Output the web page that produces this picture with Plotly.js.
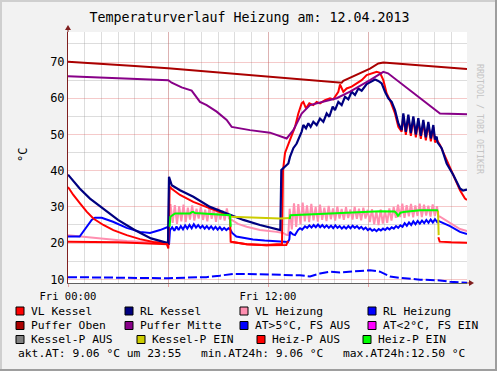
<!DOCTYPE html>
<html><head><meta charset="utf-8">
<script src="https://cdn.plot.ly/plotly-3.0.1.min.js"></script>
<style>html,body{margin:0;padding:0;background:#F2F2F2;}#g{width:497px;height:371px;}</style>
</head><body><div id="g"></div>
<script>
// ---------- data (hours since Fri 00:00, °C) ----------
const tPufferOben = [0,2,4,6,7.9,10,11,13,15,16.42,16.52,16.92,17.72,18.12,18.62,18.92,23.94];
const vPufferOben = [70.1,69.6,68.9,68.3,67.6,66.7,66.4,65.6,64.9,64.3,64.8,65.7,67.3,68.2,69.6,69.9,68.1];

const tPufferMitte = [0,2,4,6.02,6.22,6.82,7.42,7.62,7.72,7.92,8.32,8.92,9.52,9.82,10.92,12.12,13.12,13.52,14.02,14.52,16.12,16.92,18.12,18.92,19.2,20.52,21.52,22.32,23.94];
const vPufferMitte = [66.1,65.7,65.4,65.0,64.3,63.0,62.1,60.9,60.0,59.0,58.1,56.3,54.0,52.1,51.2,50.5,48.9,51.2,55.8,58.1,60.0,61.8,65.0,67.3,66.9,62.3,58.6,55.8,55.6];

const tVLKessel = [0,0.32,0.72,1.12,1.52,2.12,2.72,3.52,4.32,5.12,5.92,6.02,6.1,6.22,6.72,7.52,8.52,9.52,9.72,9.76,10.72,11.92,12.52,12.84,12.9,13.02,13.32,13.62,13.82,14.02,14.12,14.28,14.48,14.72,14.92,15.12,15.42,15.72,15.92,16.22,16.32,16.52,16.72,17.02,17.32,17.62,17.92,18.22,18.52,18.72,18.92,19.12,19.32,19.62,19.82,20.02,20.12,20.27,20.42,20.57,20.72,20.87,21.02,21.17,21.32,21.47,21.62,21.77,21.92,22.02,22.12,22.32,22.72,23.12,23.52,23.82,23.94];
const vVLKessel = [35.5,33.3,31.0,28.7,26.8,25.0,23.6,22.2,21.1,20.3,19.9,18.5,35.6,35.0,33.3,31.4,29.6,27.8,27.7,20.4,19.7,19.4,19.7,19.7,40.0,44.9,48.5,52.1,55.8,58.6,59.0,57.2,58.6,58.1,59.0,58.6,59.5,60.0,59.7,61.8,63.8,61.8,62.7,63.2,64.1,65.0,66.4,66.9,67.3,67.0,65.0,61.3,59.5,55.8,52.1,50.8,55.2,49.9,54.9,49.6,54.4,49.2,53.9,48.8,53.4,48.4,52.9,48.1,52.0,47.8,48.6,47.1,42.9,38.3,34.6,32.3,31.9];

const tRLKessel = [0,0.7,1.32,1.98,3,4,4.98,5.52,5.82,6.0,6.06,6.22,6.72,7.52,8.52,9.52,10.52,11.52,12.62,12.74,12.8,13.02,13.22,13.32,13.52,13.72,13.82,14.02,14.12,14.28,14.42,14.56,14.72,14.92,15.12,15.32,15.52,15.68,15.88,16.02,16.22,16.42,16.62,16.82,17.02,17.22,17.42,17.62,17.92,18.22,18.42,18.62,18.82,19.02,19.22,19.42,19.62,19.82,20.02,20.12,20.27,20.42,20.57,20.72,20.87,21.02,21.17,21.32,21.47,21.62,21.77,21.92,22.02,22.12,22.17,22.42,22.72,23.12,23.52,23.7,23.94];
const vRLKessel = [38.9,35.1,32.3,30.0,26.4,23.6,21.3,20.6,20.2,20.0,38.3,36.0,34.6,32.8,30.0,28.2,26.4,25.0,23.8,23.6,40.2,41.1,42.0,43.8,46.2,47.5,48.5,50.8,52.6,51.7,53.1,52.1,53.5,52.6,54.4,53.5,55.8,54.9,57.7,56.7,59.0,58.1,60.4,59.7,61.8,60.9,62.7,62.1,63.9,64.6,65.2,64.8,64.1,61.8,60.0,59.0,56.7,53.1,51.2,55.8,50.7,55.5,50.4,55.0,50.0,54.5,49.6,54.0,49.2,53.5,48.9,52.6,48.6,49.4,47.8,46.2,42.0,38.8,35.1,34.5,34.8];

const tVLHeizung = [0,0.72,1.92,3.52,5.12,5.92,6.02,6.06,6.1,6.15,6.28,6.41,6.54,6.67,6.80,6.93,7.06,7.19,7.32,7.45,7.58,7.71,7.84,7.97,8.10,8.23,8.36,8.49,8.62,8.75,8.88,9.01,9.14,9.27,9.40,9.53,9.66,9.75,10.2,10.72,11.52,12.52,12.9,13.1,13.22,
  13.30,13.43,13.56,13.69,13.82,13.95,14.08,14.21,14.34,14.47,14.60,14.73,14.86,14.99,15.12,15.25,15.38,15.51,15.64,15.77,15.90,16.03,16.16,16.29,16.42,16.55,16.68,16.81,16.94,17.07,17.20,17.33,17.46,17.59,17.72,17.85,17.98,18.11,18.24,18.37,18.50,18.63,18.76,18.89,19.02,19.15,19.28,19.41,19.54,19.67,19.80,19.93,20.06,20.19,20.32,20.45,20.58,20.71,20.84,20.97,21.10,21.23,21.36,21.49,21.62,21.75,21.88,22.01,22.14,22.22,22.32,22.92,23.52,23.94];
const vVLHeizung = [22.2,21.9,21.3,20.6,20.2,20.0,20.0,33.2,26.5,30.8,25.6,30.5,25.3,30.2,26.0,30.6,25.8,29.8,26.5,30.4,26.2,29.5,26.8,30.0,26.4,29.2,26.0,30.1,26.7,29.4,25.9,29.8,26.5,29.0,26.2,29.6,26.8,26.6,25.3,24.5,23.6,23.1,22.8,22.3,22.2,
  29.5,23.8,31.0,24.5,30.8,25.2,31.2,26.0,30.4,25.8,30.8,26.3,30.0,25.9,30.6,26.4,29.8,26.1,30.3,26.6,29.6,26.2,30.1,26.8,29.4,26.4,29.9,26.9,29.3,26.5,30.0,26.7,29.5,26.3,29.8,26.8,29.2,25.8,29.4,25.2,28.8,25.0,29.3,25.4,28.9,25.6,29.6,26.2,30.0,27.0,30.6,27.2,30.9,27.0,30.5,27.4,30.8,27.1,30.4,27.5,30.9,27.2,30.6,27.6,30.3,27.3,30.7,27.5,30.2,27.4,27.3,25.5,23.9,23.3];

const tRLHeizung = [0,0.7,1.42,1.62,2.02,2.7,3.52,4.32,4.92,5.52,6.02,6.06,6.12,6.25,6.38,6.51,6.64,6.77,6.90,7.03,7.16,7.29,7.42,7.55,7.68,7.81,7.94,8.07,8.20,8.33,8.46,8.59,8.72,8.85,8.98,9.11,9.24,9.37,9.50,9.63,9.72,9.85,10.1,10.5,11.1,11.8,12.52,13.2,13.28,13.32,13.5,13.62,13.8,13.92,14.05,14.22,
  14.35,14.48,14.61,14.74,14.87,15.00,15.13,15.26,15.39,15.52,15.65,15.78,15.91,16.04,16.17,16.30,16.43,16.56,16.69,16.82,16.95,17.08,17.21,17.34,17.47,17.60,17.73,17.86,17.99,18.12,18.25,18.38,18.51,18.64,18.77,18.90,19.03,19.16,19.29,19.42,19.55,19.68,19.81,19.94,20.07,20.20,20.33,20.46,20.59,20.72,20.85,20.98,21.11,21.24,21.37,21.50,21.63,21.76,21.89,22.02,22.15,22.22,22.32,22.92,23.52,23.94];
const vRLHeizung = [21.8,21.8,26.4,27.0,27.0,25.9,24.2,23.1,22.8,23.6,24.5,19.5,23.6,24.4,23.4,24.6,23.6,24.7,23.8,24.9,24.0,25.0,24.1,25.2,24.3,25.0,24.2,24.8,24.0,24.7,23.9,24.6,23.8,24.5,23.7,24.4,23.6,24.2,23.6,24.1,23.9,22.8,21.8,21.4,21.0,20.7,20.4,20.3,21.0,23.1,22.4,22.2,23.6,24.1,23.7,24.6,
  24.2,24.9,24.3,25.0,24.4,25.1,24.4,25.0,24.3,24.9,24.2,24.8,24.1,24.9,24.2,24.7,24.0,24.6,24.0,24.7,24.1,24.8,24.2,24.7,24.0,24.5,23.8,24.3,23.6,24.0,23.4,23.8,23.3,23.9,23.5,24.0,23.6,24.2,23.8,24.4,24.0,24.7,24.2,24.9,24.5,25.5,24.8,25.7,25.0,26.0,25.2,26.1,25.4,26.2,25.5,26.4,25.6,26.5,25.7,26.6,25.8,26.2,25.9,24.7,23.1,22.5];

const tAussen = [0,2,4,6,7.92,8.3,9.1,9.9,10.7,12.72,13.92,14.52,15.12,15.72,16.32,17.52,18.12,18.72,19.32,19.92,21.12,22.32,22.92,23.94];
const vAussen = [10.6,10.5,10.4,10.3,10.6,10.6,11.0,11.5,11.5,11.3,11.1,10.8,11.6,12.1,11.9,12.3,12.5,12.1,10.8,10.4,9.9,9.7,9.3,9.06];

const tKesselPEin = [9.76,10.72,11.92,12.72,13.3,13.31,22.2,22.24];
const vKesselPEin = [27.3,27.1,26.8,26.8,26.9,null,29.0,22.2];

const tHeizPAus = [0,3,6.0,6.01,9.76,10.72,11.92,12.9,13.1,13.2,13.21,22.22,22.3,23.0,23.94];
const vHeizPAus = [20.4,20.2,19.7,null,20.4,19.7,19.4,19.5,19.5,20.6,null,21.6,20.4,20.2,20.1];

const tHeizPEin = [6.1,6.14,6.42,7.32,7.45,7.52,7.62,7.92,8.52,9.0,9.5,9.72,9.76,9.77,13.3,13.34,14.72,16.72,18.72,19.6,19.72,19.8,19.95,20.12,21.12,22.12,22.2];
const vHeizPEin = [24.5,27.3,28.2,28.2,28.6,28.6,28.3,28.2,28.0,27.9,27.8,27.7,24.5,null,26.6,27.7,28.0,28.4,28.8,28.7,28.2,27.5,28.4,28.6,29.1,29.1,29.0];

const xTickVals = [0,6,12,18];
const xTickText = ['Fri 00:00','','Fri 12:00',''];

const legendNames = ['VL Kessel','RL Kessel','VL Heizung','RL Heizung','Puffer Oben','Puffer Mitte','AT&gt;5°C, FS AUS','AT&lt;2°C, FS EIN','Kessel-P AUS','Kessel-P EIN','Heiz-P AUS','Heiz-P EIN'];
const legendColors = ['#FF0000','#000080','#FF8FB0','#0000FF','#AA0000','#880088','#0000FF','#FF00FF','#808080','#CCCC00','#FF0000','#00FF00'];
const statsTexts = ['akt.AT: 9.06 °C um 23:55','min.AT24h: 9.06 °C','max.AT24h:12.50 °C'];
const titleText = 'Temperaturverlauf Heizung am: 12.04.2013';

// ---------- layout geometry (pixels) ----------
const W0=497,H0=371,L=68,R=467,T=32,B=283;
const px = x => (x-L)/(R-L);
const py = y => (B-y)/(B-T);
const mono = 'DejaVu Sans Mono';

function line(x,y,name,color,width,dash){
  return {type:'scatter',mode:'lines',x:x,y:y,name:name,showlegend:false,hoverinfo:'skip',
    line:{color:color,width:width||2,dash:dash||'solid',shape:'linear'},connectgaps:false};
}
const traces = [
  line(tVLHeizung,vVLHeizung,'VL Heizung',legendColors[2],2),
  line(tRLHeizung,vRLHeizung,'RL Heizung',legendColors[3],2),
  line(tVLKessel,vVLKessel,'VL Kessel',legendColors[0],2),
  line(tRLKessel,vRLKessel,'RL Kessel',legendColors[1],2.2),
  line(tPufferOben,vPufferOben,'Puffer Oben',legendColors[4],2),
  line(tPufferMitte,vPufferMitte,'Puffer Mitte',legendColors[5],2),
  line(tAussen,vAussen,'AT',legendColors[6],2,'9px,3px'),
  line(tKesselPEin,vKesselPEin,'Kessel-P EIN',legendColors[9],2),
  line(tHeizPAus,vHeizPAus,'Heiz-P AUS',legendColors[10],2),
  line(tHeizPEin,vHeizPEin,'Heiz-P EIN',legendColors[11],2)
];

const shapes = [];
const annotations = [];
// frame (3D border)
const sh = (x0,y0,x1,y1,c,w)=>shapes.push({type:'line',xref:'paper',yref:'paper',x0:px(x0),y0:py(y0),x1:px(x1),y1:py(y1),line:{color:c,width:w}});
sh(0,1,W0,1,'#CFCFCF',2); sh(1,0,1,H0,'#CFCFCF',2);
sh(0,H0-1,W0,H0-1,'#9E9E9E',2); sh(W0-1,0,W0-1,H0,'#9E9E9E',2);
// axis extensions + arrows
sh(L,T,L,27,'#802020',1);
sh(R,B,471,B,'#802020',1);
shapes.push({type:'path',xref:'paper',yref:'paper',path:`M${px(65)},${py(30)} L${px(68)},${py(25)} L${px(71)},${py(30)} Z`,fillcolor:'#801F1F',line:{width:0}});
shapes.push({type:'path',xref:'paper',yref:'paper',path:`M${px(469)},${py(280)} L${px(474)},${py(283)} L${px(469)},${py(286)} Z`,fillcolor:'#801F1F',line:{width:0}});

// legend
const legPos = [[16,30,311],[125,138.5,311],[240,253.5,311],[368,381.5,311],
                [16,30,325.5],[125,138.5,325.5],[240,253.5,325.5],[368,381.5,325.5],
                [16,30,339.5],[137,150.5,339.5],[257,270.5,339.5],[363,376.5,339.5]];
legendNames.forEach((n,i)=>{
  const [bx,tx,cy]=legPos[i];
  shapes.push({type:'rect',xref:'paper',yref:'paper',x0:px(bx),x1:px(bx+8),y0:py(cy-4),y1:py(cy+4),fillcolor:legendColors[i],line:{color:'#000',width:1}});
  annotations.push({xref:'paper',yref:'paper',x:px(tx),y:py(cy),xanchor:'left',yanchor:'middle',showarrow:false,text:n,borderpad:0,font:{family:mono,size:11.3,color:'#000'}});
});
const statX=[16.5,199.5,342];
statsTexts.forEach((s,i)=>annotations.push({xref:'paper',yref:'paper',x:px(statX[i]),y:py(353.5),xanchor:'left',yanchor:'middle',showarrow:false,text:s,borderpad:0,font:{family:mono,size:11.3,color:'#000'}}));
// unit label and watermark
annotations.push({xref:'paper',yref:'paper',x:px(14),y:py(155),textangle:-90,showarrow:false,text:'°C',font:{family:mono,size:12,color:'#000'}});
annotations.push({xref:'paper',yref:'paper',x:px(487),y:py(62),textangle:90,showarrow:false,text:'RRDTOOL / TOBI OETIKER',font:{family:mono,size:8.3,color:'#C4C4C4'}});

const layout = {
  width:W0,height:H0,autosize:false,
  margin:{l:L,r:W0-R,t:T,b:H0-B,pad:0},
  paper_bgcolor:'#F2F2F2',plot_bgcolor:'#FFFFFF',
  showlegend:false,
  title:{text:titleText,font:{family:mono,size:13.3,color:'#000'},xref:'container',x:0.502,yref:'container',y:1-17/H0,yanchor:'middle',xanchor:'center'},
  xaxis:{range:[0,23.94],tickmode:'array',tickvals:xTickVals,ticktext:xTickText,
    showgrid:true,gridcolor:'rgba(222,79,79,0.3)',gridwidth:1,zeroline:false,
    showline:true,linecolor:'#606060',linewidth:1,
    ticks:'outside',ticklen:3,tickcolor:'rgba(222,79,79,0.5)',
    tickfont:{family:mono,size:10.5,color:'#000'},
    minor:{tickmode:'linear',tick0:0,dtick:1,showgrid:true,gridcolor:'rgba(143,143,143,0.3)',gridwidth:1,ticks:''},
    fixedrange:true},
  yaxis:{range:[8.98,78.3],tickmode:'linear',tick0:0,dtick:10,
    showgrid:true,gridcolor:'rgba(222,79,79,0.3)',gridwidth:1,zeroline:false,
    showline:true,linecolor:'#802020',linewidth:1,ticks:'',
    tickfont:{family:mono,size:12,color:'#000'},
    minor:{tickmode:'linear',tick0:0,dtick:5,showgrid:true,gridcolor:'rgba(143,143,143,0.3)',gridwidth:1,ticks:''},
    fixedrange:true},
  shapes:shapes,annotations:annotations
};
Plotly.newPlot('g',traces,layout,{staticPlot:true,displayModeBar:false});
</script></body></html>
